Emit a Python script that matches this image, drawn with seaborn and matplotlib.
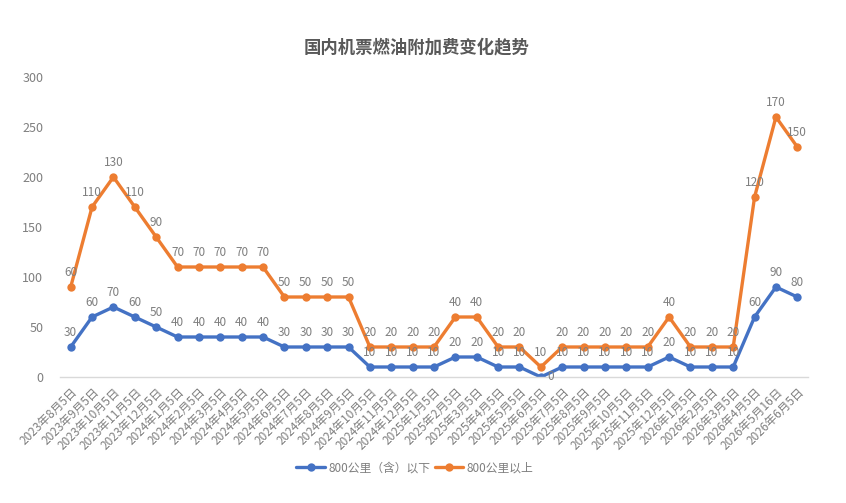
import matplotlib
matplotlib.use("Agg")
import matplotlib.pyplot as plt
import seaborn as sns
import pandas as pd
import numpy as np

categories = [
    "2023年8月5日", "2023年9月5日", "2023年10月5日", "2023年11月5日", "2023年12月5日",
    "2024年1月5日", "2024年2月5日", "2024年3月5日", "2024年4月5日", "2024年5月5日",
    "2024年6月5日", "2024年7月5日", "2024年8月5日", "2024年9月5日", "2024年10月5日",
    "2024年11月5日", "2024年12月5日", "2025年1月5日", "2025年2月5日", "2025年3月5日",
    "2025年4月5日", "2025年5月5日", "2025年6月5日", "2025年7月5日", "2025年8月5日",
    "2025年9月5日", "2025年10月5日", "2025年11月5日", "2025年12月5日", "2026年1月5日",
    "2026年2月5日", "2026年3月5日", "2026年4月5日", "2026年5月16日", "2026年6月5日",
]
below_800 = [30, 60, 70, 60, 50, 40, 40, 40, 40, 40, 30, 30, 30, 30, 10, 10, 10, 10, 20, 20,
             10, 10, 0, 10, 10, 10, 10, 10, 20, 10, 10, 10, 60, 90, 80]
above_800 = [60, 110, 130, 110, 90, 70, 70, 70, 70, 70, 50, 50, 50, 50, 20, 20, 20, 20, 40, 40,
             20, 20, 10, 20, 20, 20, 20, 20, 40, 20, 20, 20, 120, 170, 150]
series_names = ["800公里（含）以下", "800公里以上"]
title = "国内机票燃油附加费变化趋势"
yticks = [0, 50, 100, 150, 200, 250, 300]

sns.set_theme(style="white")
plt.rcParams['font.family'] = ['Noto Sans CJK SC', 'DejaVu Sans']

blue = "#4472C4"
orange = "#ED7D31"
gray = "#7f7f7f"

n = len(categories)
idx = np.arange(n)
# stacked line chart: second series plotted on top of the first
stacked_above = np.array(below_800) + np.array(above_800)
df = pd.DataFrame({
    "x": np.concatenate([idx, idx]),
    "y": np.concatenate([below_800, stacked_above]),
    "label": np.concatenate([below_800, above_800]),
    "series": [series_names[0]] * n + [series_names[1]] * n,
})

fig = plt.figure(figsize=(8.46, 5.03), dpi=100)
ax = fig.add_axes([60 / 846, 1 - 377 / 503, 748 / 846, 300 / 503])

sns.lineplot(data=df, x="x", y="y", hue="series", palette=[blue, orange],
             marker="o", markersize=6, markeredgewidth=0, linewidth=2.4,
             ax=ax, legend=True)

for _, r in df.iterrows():
    if r["series"] == series_names[0] and r["label"] == 0:
        # zero label sits to the right of its point, as in the original
        ax.annotate("0", (r["x"], r["y"]), xytext=(5, 0),
                    textcoords="offset points", ha="left", va="center",
                    fontsize=8.5, color=gray)
        continue
    ax.annotate(f"{int(r['label'])}", (r["x"], r["y"]), xytext=(0, 6),
                textcoords="offset points", ha="center", va="bottom",
                fontsize=8.5, color=gray)

ax.set_xlim(-0.5, n - 0.5)
ax.set_ylim(0, 300)
ax.set_yticks(yticks)
ax.set_yticklabels([str(v) for v in yticks])
ax.set_xticks(idx)
ax.set_xticklabels(categories, rotation=45, ha="right", rotation_mode="anchor")
ax.tick_params(axis="x", colors=gray, labelsize=8.5, length=3, width=0.8, color="#d9d9d9", pad=3)
ax.tick_params(axis="y", colors=gray, labelsize=9, length=0, pad=12)
ax.set_xlabel("")
ax.set_ylabel("")
for s in ["top", "right", "left"]:
    ax.spines[s].set_visible(False)
ax.spines["bottom"].set_color("#d9d9d9")
ax.spines["bottom"].set_linewidth(1)

fig.text(417 / 846, 1 - 47 / 503, title, ha="center", va="center",
         fontsize=12.5, fontweight="bold", color="#595959")

handles, labels = ax.get_legend_handles_labels()
ax.legend(handles, labels, loc="center", bbox_to_anchor=(415 / 846, 1 - 468 / 503),
          bbox_transform=fig.transFigure, ncol=2, frameon=False, fontsize=8.5,
          labelcolor=gray, handlelength=2.4, handletextpad=0.3, columnspacing=0.4)

fig.savefig("out.png", dpi=100, facecolor="white")
